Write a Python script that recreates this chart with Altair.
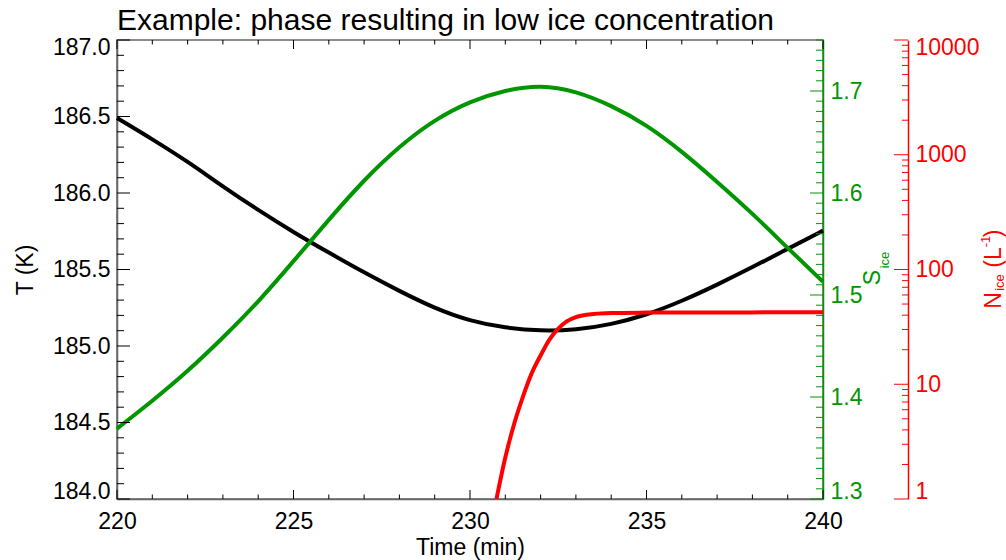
import altair as alt
import pandas as pd

# ---------------- data ----------------
time_min = [220, 221, 222, 223, 224, 225, 226, 227, 228, 229, 230,
            231, 232, 233, 234, 235, 236, 237, 238, 239, 240]
temperature_K = [186.49, 186.352, 186.206, 186.042, 185.888, 185.744, 185.61, 185.48,
                 185.359, 185.246, 185.163, 185.118, 185.098, 185.105, 185.14, 185.203,
                 185.293, 185.40, 185.515, 185.635, 185.754]
s_ice = [1.369, 1.396, 1.425, 1.458, 1.493, 1.533, 1.574, 1.613, 1.646, 1.672, 1.690,
         1.701, 1.706, 1.700, 1.686, 1.667, 1.641, 1.611, 1.580, 1.546, 1.513]
n_time_min = [230.75, 231.0, 231.25, 231.5, 231.75, 232.0, 232.25, 232.5, 232.75,
              233.0, 233.5, 234.0, 235.0, 236.0, 238.0, 240.0]
n_ice = [1.0, 2.3, 4.5, 7.8, 12.5, 17.8, 24.5, 30.5, 35.5,
         38.5, 41.0, 41.8, 42.1, 42.2, 42.3, 42.4]

# tick values
time_ticks = [220, 225, 230, 235, 240]
time_minor = [221, 222, 223, 224, 226, 227, 228, 229, 231, 232, 233, 234,
              236, 237, 238, 239]
temp_ticks = [184.0, 184.5, 185.0, 185.5, 186.0, 186.5, 187.0]
temp_minor = [184.1, 184.2, 184.3, 184.4, 184.6, 184.7, 184.8, 184.9,
              185.1, 185.2, 185.3, 185.4, 185.6, 185.7, 185.8, 185.9,
              186.1, 186.2, 186.3, 186.4, 186.6, 186.7, 186.8, 186.9]
s_ticks = [1.3, 1.4, 1.5, 1.6, 1.7]
s_minor = [round(1.3 + 0.01 * i, 2) for i in range(1, 46) if i % 10 != 0]
n_ticks = [1, 10, 100, 1000, 10000]
n_minor = [m * 10 ** k for k in range(4) for m in range(2, 10)]

title_text = "Example: phase resulting in low ice concentration"
x_title = "Time (min)"
t_title = "T (K)"

# ---------------- styling ----------------
W, H = 706, 459
FONT = "Liberation Sans"
GREEN = "#009600"
RED = "#ff0000"
GRAY = "#666666"


def xs():
    return alt.Scale(domain=[220, 240], nice=False, zero=False)


def ts():
    return alt.Scale(domain=[184, 187], nice=False, zero=False)


def ss():
    return alt.Scale(domain=[1.3, 1.75], nice=False, zero=False)


def ns():
    return alt.Scale(type="log", domain=[1, 10000], nice=False)


df_main = pd.DataFrame({"t": time_min, "T": temperature_K, "S": s_ice})
df_n = pd.DataFrame({"t": n_time_min, "N": n_ice})


def tdf(vals):
    return pd.DataFrame({"v": vals})


common = dict(ticks=False, grid=False, labelFontSize=23, labelFont=FONT,
              titleFont=FONT, titleFontSize=23, titleFontWeight="normal",
              domainWidth=1.5, labelOverlap=False)

x_axis = alt.Axis(orient="bottom", values=time_ticks, format="d", title=x_title,
                  domainColor=GRAY, labelColor="black", titleColor="black",
                  labelPadding=11, titlePadding=3, labelFlush=False, **common)
t_axis = alt.Axis(orient="left", values=temp_ticks, format=".1f", title=t_title,
                  domainColor=GRAY, labelColor="black", titleColor="black",
                  labelPadding=7, titlePadding=15, labelFlush=True,
                  labelFlushOffset=4, **common)
s_axis = alt.Axis(orient="right", values=s_ticks, format=".1f", title="",
                  domainColor=GREEN, labelColor=GREEN, labelPadding=7,
                  labelFlush=True, labelFlushOffset=4, **common)
n_axis = alt.Axis(orient="right", values=n_ticks, format="d", title="", offset=85,
                  domainColor=RED, labelColor=RED, labelPadding=7,
                  labelFlush=True, labelFlushOffset=4, **common)


def yticks(vals, scale, x0, x1, color):
    return alt.Chart(tdf(vals)).mark_rule(color=color, strokeWidth=1).encode(
        y=alt.Y("v:Q", scale=scale, axis=None), x=alt.value(x0), x2=alt.value(x1))


def xticks(vals, y0, y1):
    return alt.Chart(tdf(vals)).mark_rule(color="black", strokeWidth=1).encode(
        x=alt.X("v:Q", scale=xs(), axis=None), y=alt.value(y0), y2=alt.value(y1))


t_line = alt.Chart(df_main).mark_line(color="black", strokeWidth=4,
                                      interpolate="basis").encode(
    x=alt.X("t:Q", scale=xs(), axis=x_axis),
    y=alt.Y("T:Q", scale=ts(), axis=t_axis))

s_line = alt.Chart(df_main).mark_line(color=GREEN, strokeWidth=4,
                                      interpolate="basis").encode(
    x=alt.X("t:Q", scale=xs(), axis=None),
    y=alt.Y("S:Q", scale=ss(), axis=s_axis))

n_line = alt.Chart(df_n).mark_line(color=RED, strokeWidth=4, clip=True,
                                   interpolate="monotone").encode(
    x=alt.X("t:Q", scale=xs(), axis=None),
    y=alt.Y("N:Q", scale=ns(), axis=n_axis))


def rot_text(txt, px, py, size, color):
    return alt.Chart(pd.DataFrame({"a": [0]})).mark_text(
        text=txt, angle=270, fontSize=size, font=FONT, color=color,
        align="center", baseline="alphabetic").encode(
        x=alt.value(px), y=alt.value(py))


tick_layers = [
    yticks(temp_ticks, ts(), 0, 13, "black"),
    yticks(temp_minor, ts(), 0, 7, "black"),
    xticks(time_ticks, H, H - 9),
    xticks(time_minor, H, H - 4.5),
    xticks(time_ticks, 0, 9),
    xticks(time_minor, 0, 4.5),
    yticks(s_ticks, ss(), W - 13, W, GREEN),
    yticks(s_minor, ss(), W - 7, W, GREEN),
    yticks(n_ticks, ns(), W + 85 - 14, W + 85, RED),
    yticks(n_minor, ns(), W + 85 - 6, W + 85, RED),
]

texts = [
    rot_text("S", 763, 237.5, 23, GREEN),
    rot_text("ice", 772, 220, 13, GREEN),
    rot_text("N", 884, 260.5, 23, RED),
    rot_text("ice", 887, 242.5, 13, RED),
    rot_text("(L", 884, 217.5, 23, RED),
    rot_text("-1", 873, 201.5, 13, RED),
    rot_text(")", 884, 193.5, 23, RED),
]

chart = alt.layer(t_line, s_line, n_line, *tick_layers, *texts).resolve_scale(
    y="independent"
).resolve_axis(
    x="independent"
).properties(
    width=W,
    height=H,
    title=alt.TitleParams(text=title_text, anchor="start", fontSize=30,
                          fontWeight="normal", font=FONT, color="black",
                          offset=0, frame="group"),
    autosize=alt.AutoSizeParams(type="none"),
    padding={"left": 117, "top": 40, "right": 183, "bottom": 61},
).configure_view(stroke=GRAY, strokeWidth=1.5)

chart.save("out.html", embed_options={"renderer": "svg", "actions": False})
